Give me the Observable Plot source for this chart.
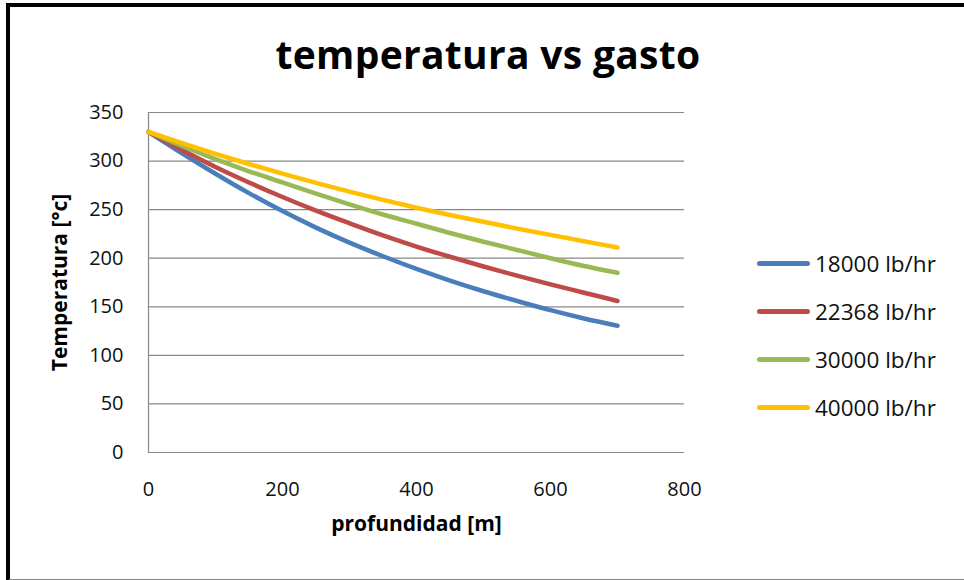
<!DOCTYPE html>
<html>
<head>
<meta charset="utf-8">
<script src="https://cdn.jsdelivr.net/npm/d3@7"></script>
<script src="https://cdn.jsdelivr.net/npm/@observablehq/plot@0.6"></script>
<style>
  html, body { margin: 0; padding: 0; background: #fff; overflow: hidden; }
  #wrap { position: relative; width: 964px; height: 580px; overflow: hidden; font-family: "Open Sans", sans-serif; }
  #frame { position: absolute; left: 6px; top: 3px; width: 1000px; height: 572px;
           border-top: 4px solid #000; border-left: 4px solid #000; border-bottom: 2px solid #888; pointer-events: none; }
  #title { position: absolute; left: 0; width: 976px; top: 27px; text-align: center;
           font-size: 39px; font-weight: 700; color: #000; letter-spacing: 0.3px; }
  #legend { position: absolute; left: 757px; top: 239px; }
  .item { display: flex; align-items: center; height: 48px; font-size: 22.5px; color: #111; }
  .sw { width: 53px; height: 5px; border-radius: 3px; margin-right: 5px; }
  #chart { position: absolute; left: 0; top: 0; }
</style>
</head>
<body>
<div id="wrap">
  <div id="chart"></div>
  <div id="title">temperatura vs gasto</div>
  <div id="legend"></div>
  <div id="frame"></div>
</div>
<script>
// Data
const depth   = [0, 50, 100, 150, 200, 250, 300, 350, 400, 450, 500, 550, 600, 650, 700];
const t18000  = [330, 308, 287, 267, 248.5, 231.5, 216, 202, 189, 177, 166, 156, 146.5, 138, 130.5];
const t22368  = [330, 311.5, 294, 278, 263, 249, 236, 223.5, 212, 201.5, 191.5, 182, 173, 164.5, 156];
const t30000  = [330, 315.5, 302, 289.5, 278, 266.5, 255.5, 245, 235.5, 226, 217, 208.5, 200, 192, 185];
const t40000  = [330, 318.5, 307.5, 297, 287, 277.5, 268.5, 260, 252, 244.5, 237.5, 230.5, 224, 217.5, 211];
const seriesNames = ["18000 lb/hr", "22368 lb/hr", "30000 lb/hr", "40000 lb/hr"];
const seriesValues = [t18000, t22368, t30000, t40000];
const xTicks = [0, 200, 400, 600, 800];
const yTicks = [0, 50, 100, 150, 200, 250, 300, 350];
const colors = ["#4a7ebb", "#be4b48", "#98b954", "#ffc000"];

const rows = seriesNames.flatMap((name, i) =>
  depth.map((d, j) => ({ depth: d, temp: seriesValues[i][j], series: name })));

const chart = Plot.plot({
  width: 964,
  height: 580,
  marginLeft: 148,
  marginRight: 280,
  marginTop: 112,
  marginBottom: 128,
  style: { fontFamily: "Open Sans, sans-serif", background: "transparent", overflow: "visible" },
  x: { domain: [0, 800], ticks: xTicks, label: null },
  y: { domain: [0, 350], ticks: yTicks, label: null },
  color: { domain: seriesNames, range: colors },
  marks: [
    Plot.gridY(yTicks, { stroke: "#888", strokeOpacity: 1, strokeWidth: 1.2 }),
    Plot.ruleX([0], { stroke: "#888", strokeWidth: 1.2 }),
    Plot.axisX(xTicks, { tickSize: 0, tickPadding: 29, fontSize: 20, fill: "#111" }),
    Plot.axisY(yTicks, { tickSize: 0, tickPadding: 25, fontSize: 20, fill: "#111" }),
    Plot.line(rows, { x: "depth", y: "temp", stroke: "series", z: "series", strokeWidth: 4.5, curve: "monotone-x", strokeLinecap: "round" }),
    Plot.text(["profundidad [m]"], { frameAnchor: "bottom", dy: 78, fontSize: 21, fontWeight: "bold", fill: "#000" }),
    Plot.text(["Temperatura [°c]"], { frameAnchor: "left", textAnchor: "middle", dx: -88, rotate: -90, fontSize: 21, fontWeight: "bold", fill: "#000" })
  ]
});
document.getElementById("chart").appendChild(chart);

const legend = document.getElementById("legend");
seriesNames.forEach((name, i) => {
  const item = document.createElement("div");
  item.className = "item";
  const sw = document.createElement("div");
  sw.className = "sw";
  sw.style.background = colors[i];
  const label = document.createElement("span");
  label.textContent = name;
  item.appendChild(sw);
  item.appendChild(label);
  legend.appendChild(item);
});
</script>
</body>
</html>
